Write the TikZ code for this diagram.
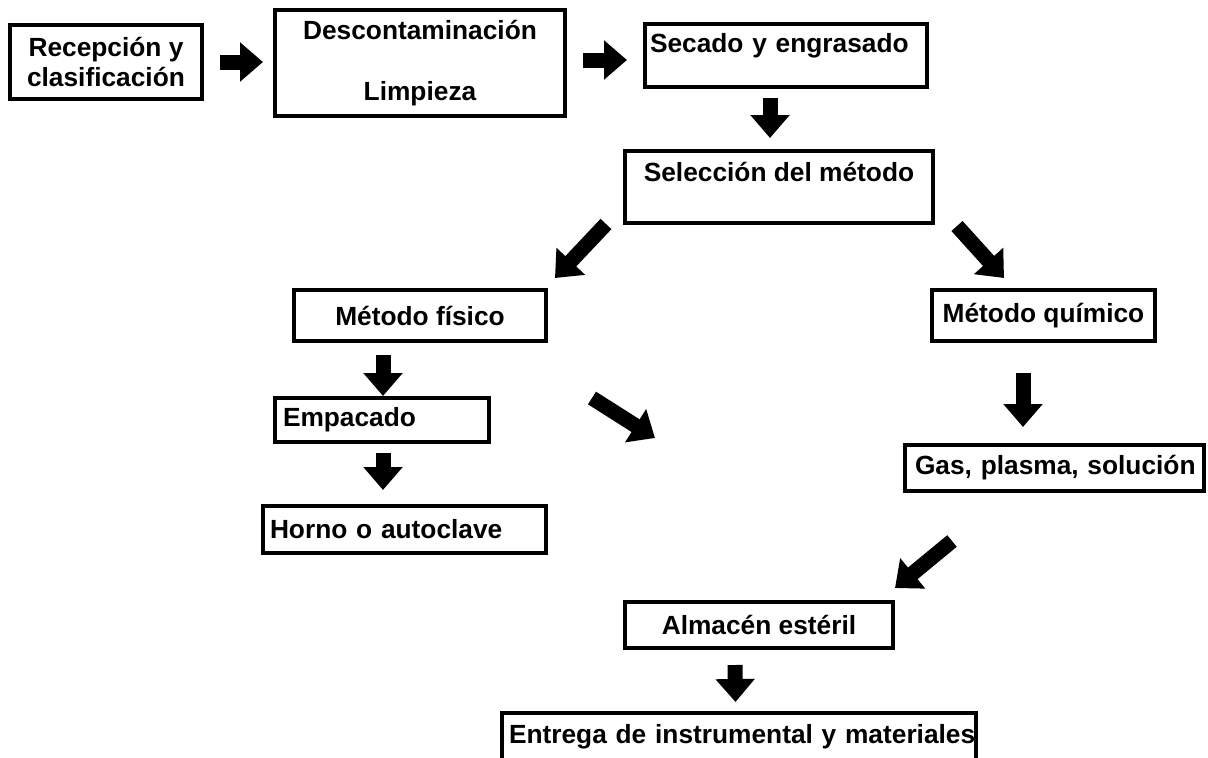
\documentclass[tikz,border=0pt]{standalone}
\usepackage{fontspec}
\setmainfont{Liberation Sans}
\usetikzlibrary{arrows.meta,calc}

\begin{document}
\begin{tikzpicture}[x=1pt,y=-1pt,
	stepbox/.style={draw,line width=4pt,inner xsep=0pt,inner ysep=0pt,font=\bfseries\fontsize{26.3}{30}\selectfont,align=center},
	fatarrow/.style={line width=15pt,-{Triangle[width=38pt,length=23pt]}}]
	\clip (0,0) rectangle (1208,758);
	\node[stepbox,minimum width=192pt,minimum height=74pt] (recep) at (106,62) {Recepción y\\clasificación};
	\node[stepbox,minimum width=290pt,minimum height=106pt] (descon) at (420,63) {Descontaminación\\[31pt]Limpieza};
	\node[stepbox,minimum width=282pt,minimum height=63pt,inner xsep=5pt,text width=272pt,align=left,text height=28.5pt,text depth=34.5pt] (secado) at (786,55.5) {\mbox{Secado y engrasado}};
	\node[stepbox,minimum width=308pt,minimum height=72pt,text height=30.5pt,text depth=41.5pt] (selec) at (779,187) {Selección del método};
	\node[stepbox,minimum width=252pt,minimum height=51pt] (fisico) at (420,315.5) {Método físico};
	\node[stepbox,minimum width=223pt,minimum height=51pt] (quimico) at (1043.5,315.5) {Método químico};
	\node[stepbox,minimum width=214pt,minimum height=44pt,inner xsep=8pt,text width=198pt,align=left] (empac) at (382,420) {\mbox{Empacado}};
	\node[stepbox,minimum width=283pt,minimum height=47pt,inner xsep=7pt,text width=269pt,align=left] (horno) at (404.5,529.5) {\mbox{Horno o autoclave}};
	\node[stepbox,minimum width=299pt,minimum height=46pt,inner xsep=10pt,text width=279pt,align=left] (gas) at (1054.5,468) {\mbox{Gas, plasma, solución}};
	\node[stepbox,minimum width=268pt,minimum height=46pt] (almacen) at (759,625) {Almacén estéril};
	\node[stepbox,minimum width=474pt,minimum height=76pt,inner xsep=7pt,text width=460pt,align=left,text height=30pt,text depth=46pt] (entrega) at (739,751) {\mbox{Entrega de instrumental y materiales}};
	\coordinate (stray tail) at (592,398);
	\coordinate (stray tip) at (655,438);

	\draw[fatarrow] ($(recep.east)+(16,0)$) -- ($(descon.west)+(-10,-1)$);
	\draw[fatarrow] ($(descon.east)+(16,-3)$) -- ($(secado.west)+(-16,4.5)$);
	\draw[fatarrow] ($(secado.south)+(-16,9)$) -- ($(selec.north)+(-9,-11)$);
	\draw[fatarrow] ($(selec.south west)+(-17,-1)$) -- ($(fisico.north east)+(7,-10)$);
	\draw[fatarrow] ($(selec.south east)+(22,1)$) -- ($(quimico.north west)+(74,-10)$);
	\draw[fatarrow] ($(fisico.south)+(-37,12)$) -- ($(empac.north)+(1,0)$);
	\draw[fatarrow] ($(empac.south)+(1,9)$) -- ($(horno.north)+(-21.5,-14)$);
	\draw[fatarrow] (stray tail) -- (stray tip);
	\draw[fatarrow] ($(quimico.south)+(-20.5,30)$) -- ($(gas.north)+(-31.5,-16)$);
	\draw[fatarrow] ($(gas.south west)+(49,48)$) -- ($(almacen.north east)+(0,-12)$);
	\draw[fatarrow] ($(almacen.south)+(-24,15)$) -- ($(entrega.north)+(-3.5,-9)$);
\end{tikzpicture}
\end{document}
